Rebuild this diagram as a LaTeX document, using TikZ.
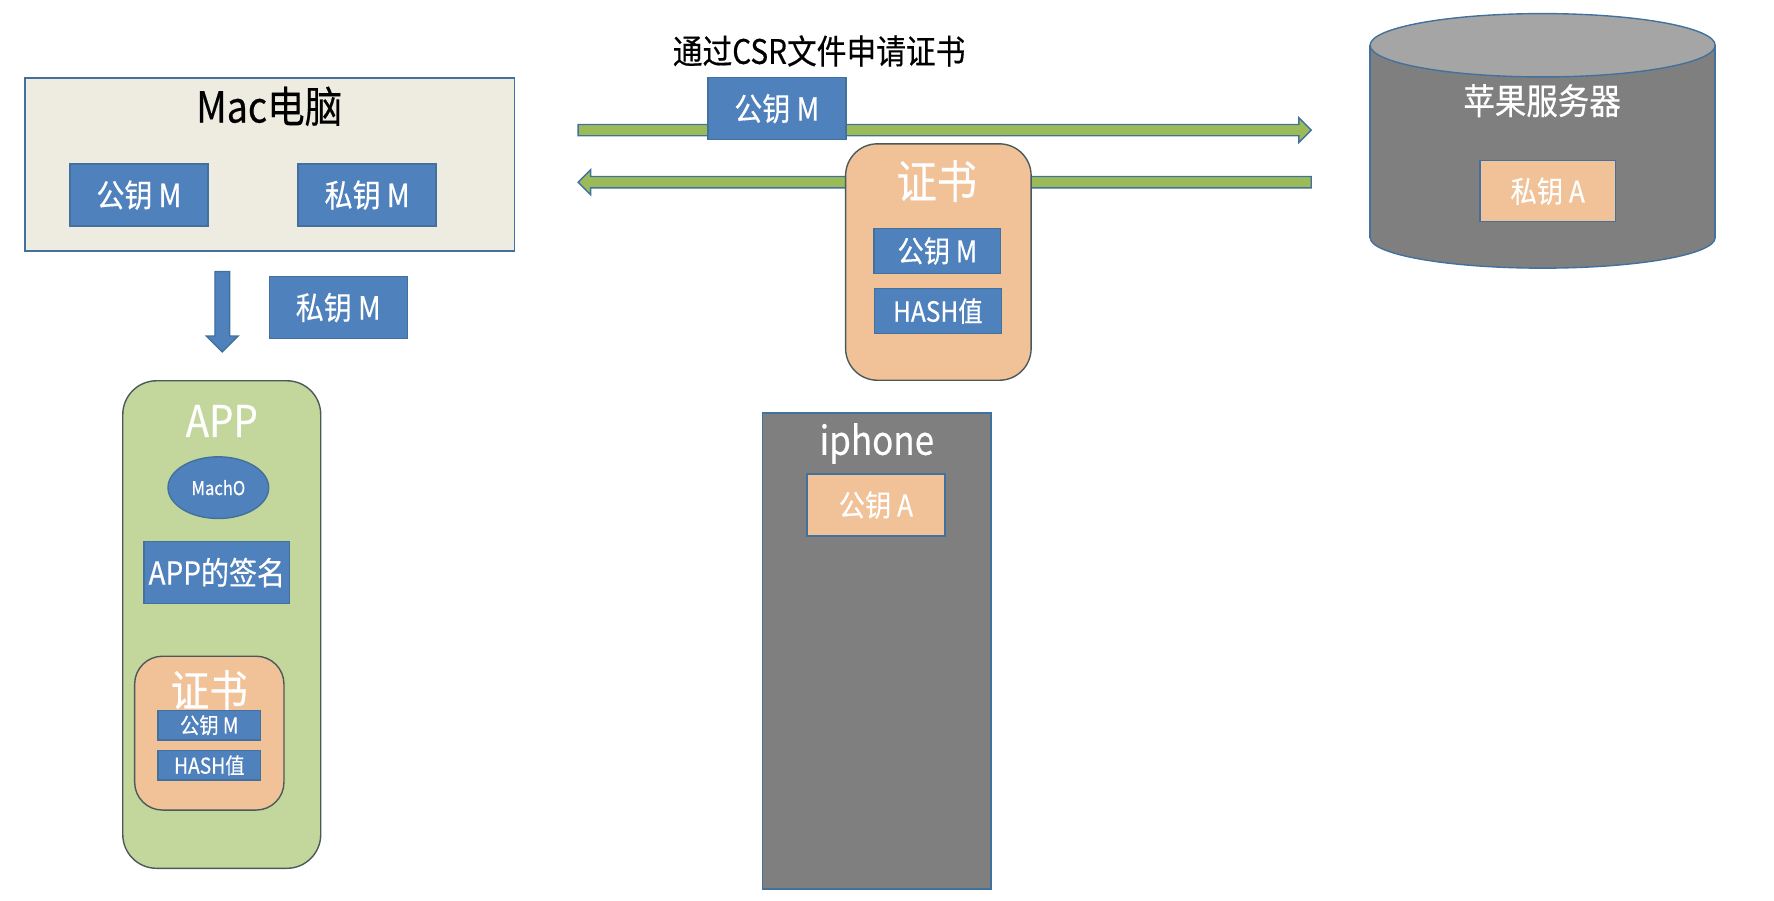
\documentclass[tikz,border=0pt]{standalone}
\usepackage{fontspec}
\setmainfont{Noto Sans CJK SC}[FakeStretch=0.88, FakeBold=0.4]
\usetikzlibrary{calc,shapes.geometric}
\definecolor{keyblue}{HTML}{4F81BD}
\definecolor{edgeblue}{HTML}{41719C}
\definecolor{peach}{HTML}{F1C197}
\definecolor{appgreen}{HTML}{C3D69B}
\definecolor{arrowgreen}{HTML}{9BBB59}
\definecolor{macbg}{HTML}{EEECE1}
\definecolor{devgray}{HTML}{7F7F7F}
\definecolor{topgray}{HTML}{A5A5A5}
\definecolor{darkedge}{HTML}{4A5A5A}
\newcommand{\fs}[1]{\fontsize{#1}{#1}\selectfont}
\tikzset{
  edge/.style={draw=edgeblue, line width=0.7pt},
  keybox/.style={edge, fill=keyblue, text=white, inner sep=0pt, minimum width=2.44cm, minimum height=1.1cm, font=\fs{16}},
  peachbox/.style={keybox, fill=peach, font=\fs{15}},
  certbox/.style={draw=darkedge, line width=0.7pt, fill=peach, rounded corners=16pt, inner sep=0pt},
  label/.style={text=white, inner sep=0pt},
  garrow/.style={edge, fill=arrowgreen},
  barrow/.style={edge, fill=keyblue}
}
\begin{document}
\begin{tikzpicture}[x=0.02cm, y={(0cm,-0.02cm)}]
\useasboundingbox (0,0) rectangle (1568,796);
\node [inner sep=0pt, font=\fs{17}] (csr) at (724,45) {通过CSR文件申请证书};
\coordinate (upL) at (511,115);
\coordinate (upR) at (1159,115);
\coordinate (backR) at (1159,161);
\coordinate (backL) at (511,161);
\draw [garrow] ($(upL)+(0,-5)$) -- ($(upR)+(-11,-5)$) -- ($(upR)+(-11,-11)$) -- (upR) -- ($(upR)+(-11,11)$) -- ($(upR)+(-11,5)$) -- ($(upL)+(0,5)$) -- cycle;
\draw [garrow] ($(backR)+(0,-5)$) -- ($(backL)+(11,-5)$) -- ($(backL)+(11,-11)$) -- (backL) -- ($(backL)+(11,11)$) -- ($(backL)+(11,5)$) -- ($(backR)+(0,5)$) -- cycle;
% Mac
\node [edge, fill=macbg, minimum width=8.66cm, minimum height=3.06cm] (mac) at (238.5,145.5) {};
\node [inner sep=0pt, font=\fs{21.5}] (mactitle) at (238,94) {Mac电脑};
\node [keybox] (pubM) at (122.8,172.4) {公钥 M};
\node [keybox] (privM) at (324.5,172.4) {私钥 M};
\coordinate (dnT) at (196.5,240);
\coordinate (dnB) at (196.5,311);
\draw [barrow] ($(dnT)+(-6.5,0)$) -- ($(dnB)+(-6.5,-14)$) -- ($(dnB)+(-14,-14)$) -- (dnB) -- ($(dnB)+(14,-14)$) -- ($(dnB)+(6.5,-14)$) -- ($(dnT)+(6.5,0)$) -- cycle;
\node [keybox] (privM2) at (299,271.8) {私钥 M};
% APP
\node [draw=darkedge, line width=0.7pt, fill=appgreen, rounded corners=17pt, minimum width=3.5cm, minimum height=8.62cm] (app) at (196,552) {};
\node [label, font=\fs{22}] (apptitle) at (196,372) {APP};
\node [ellipse, edge, fill=keyblue, text=white, inner sep=0pt, minimum width=1.78cm, minimum height=1.09cm, font=\fs{9.5}] (macho) at (193,431) {MachO};
\node [keybox, minimum width=2.58cm, minimum height=1.09cm, font=\fs{16}] (sign) at (191.6,506) {APP的签名};
\node [certbox, rounded corners=14pt, minimum width=2.64cm, minimum height=2.72cm] (appcert) at (185,648) {};
\node [label, font=\fs{22}] (appcerttitle) at (185,610) {证书};
\node [keybox, minimum width=1.82cm, minimum height=0.52cm, font=\fs{11}] (apppub) at (185,641) {公钥 M};
\node [keybox, minimum width=1.82cm, minimum height=0.52cm, font=\fs{11}] (apphash) at (185,676.5) {HASH值};
% request
\node [keybox] (sendpub) at (686.6,96) {公钥 M};
\node [certbox, minimum width=3.28cm, minimum height=4.18cm] (cert) at (829.4,231.6) {};
\node [label, font=\fs{23}] (certtitle) at (828,160) {证书};
\node [keybox, minimum width=2.24cm, minimum height=0.8cm, font=\fs{15}] (certpub) at (828.5,221.8) {公钥 M};
\node [keybox, minimum width=2.24cm, minimum height=0.8cm, font=\fs{14}] (certhash) at (829,275) {HASH值};
% iphone
\node [edge, fill=devgray, minimum width=4.04cm, minimum height=8.42cm] (iphone) at (775,575.4) {};
\node [label, font=\fs{20}] (iphonetitle) at (775,392) {iphone};
\node [peachbox] (pubA) at (774.2,446.4) {公钥 A};
% server
\fill [edge, fill=devgray] (1363.5,210) ellipse [x radius=152.5, y radius=27];
\fill [devgray] (1211,40) rectangle (1516,210);
\draw [edge] (1211,40) -- (1211,210) (1516,40) -- (1516,210);
\draw [edge, fill=topgray] (1363.5,40) ellipse [x radius=152.5, y radius=28];
\node [label, font=\fs{18}] (server) at (1363,89) {苹果服务器};
\node [peachbox, minimum width=2.4cm, minimum height=1.08cm] (privA) at (1368,169) {私钥 A};
\end{tikzpicture}
\end{document}
